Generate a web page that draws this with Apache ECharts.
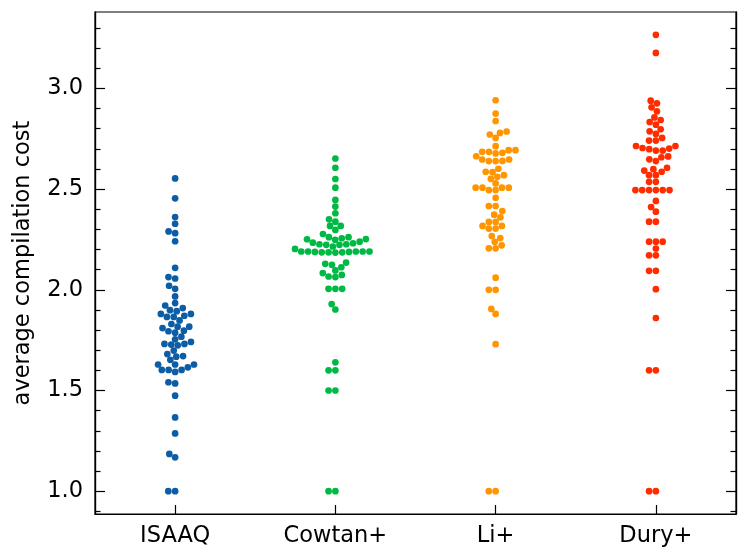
<!DOCTYPE html>
<html><head><meta charset="utf-8">
<script src="https://cdn.jsdelivr.net/npm/echarts@6/dist/echarts.min.js"></script>
<style>html,body{margin:0;padding:0;background:#fff}#c{width:748px;height:560px}</style>
</head><body><div id="c"></div>
<script>
const categories = ['ISAAQ', 'Cowtan+', 'Li+', 'Dury+'];
const isaaq = [2.553, 2.454, 2.361, 2.328, 2.290, 2.281, 2.241, 2.109, 2.063, 2.056, 2.020, 2.005, 1.967,
  1.934, 1.922, 1.909, 1.899, 1.894, 1.880, 1.871, 1.880, 1.865, 1.865, 1.848, 1.817, 1.830, 1.810, 1.817,
  1.794, 1.797, 1.787, 1.767, 1.754, 1.731, 1.728, 1.724, 1.731, 1.741, 1.698, 1.681, 1.668, 1.671, 1.652,
  1.629, 1.629, 1.602, 1.602, 1.592, 1.602, 1.615, 1.629, 1.541, 1.535, 1.474, 1.366, 1.287, 1.185, 1.168, 1.0, 1.0];
const cowtan = [2.652, 2.606, 2.550, 2.507, 2.446, 2.413, 2.380, 2.338, 2.350, 2.297, 2.317, 2.317, 2.277,
  2.261, 2.252, 2.248, 2.256, 2.261, 2.251,
  2.239, 2.231, 2.226, 2.223, 2.215, 2.223, 2.226, 2.234, 2.203,
  2.190, 2.190, 2.188, 2.186, 2.186, 2.185, 2.186, 2.188, 2.190, 2.190, 2.190,
  2.135, 2.124, 2.112, 2.129, 2.083, 2.063, 2.066, 2.074, 2.096, 2.005, 2.005, 2.005,
  1.929, 1.902, 1.640, 1.600, 1.600, 1.500, 1.500, 1.0, 1.0];
const li = [2.941, 2.875, 2.838, 2.771, 2.754, 2.779, 2.786, 2.713,
  2.693, 2.680, 2.677, 2.685, 2.685, 2.693, 2.663, 2.647, 2.639, 2.639, 2.640, 2.647,
  2.584, 2.586, 2.601, 2.561, 2.551, 2.569, 2.528, 2.507, 2.495, 2.495, 2.507, 2.507, 2.507,
  2.457, 2.416, 2.416, 2.391, 2.373, 2.360, 2.337, 2.337, 2.304, 2.304, 2.317, 2.317,
  2.257, 2.267, 2.238, 2.206, 2.206, 2.221, 2.060, 2.000, 2.000, 1.905, 1.880, 1.730, 1.0, 1.0];
const dury = [3.266, 3.176, 2.939, 2.926, 2.906, 2.886, 2.856, 2.833, 2.820, 2.843, 2.787, 2.774, 2.797,
  2.741, 2.741, 2.754, 2.714, 2.704, 2.698, 2.691, 2.691, 2.701, 2.714, 2.648, 2.639, 2.658, 2.662,
  2.592, 2.599, 2.569, 2.569, 2.586, 2.606, 2.536, 2.536, 2.495, 2.495, 2.495, 2.495, 2.495, 2.495,
  2.441, 2.411, 2.388, 2.338, 2.338, 2.239, 2.239, 2.239, 2.205, 2.171, 2.171, 2.094, 2.094, 2.003,
  1.860, 1.600, 1.600, 1.0, 1.0];
const yMajorTicks = [1.0, 1.5, 2.0, 2.5, 3.0];
const yMinorTicks = [0.9, 1.1, 1.2, 1.3, 1.4, 1.6, 1.7, 1.8, 1.9, 2.1, 2.2, 2.3, 2.4, 2.6, 2.7, 2.8, 2.9, 3.1, 3.2, 3.3];
const groups = [isaaq, cowtan, li, dury];
const colors = ['#0C5DA5', '#00B945', '#FF9500', '#FF2C00'];

const all = groups.flat();
const lo = Math.min(...all), hi = Math.max(...all);
const pad = 0.05 * (hi - lo);
const yMin = lo - pad, yMax = hi + pad;
const FONT = 'DejaVu Sans';
const LW = 1.2;
const FS = 22.5;

const chart = echarts.init(document.getElementById('c'), null, {renderer: 'canvas'});

function yAxisDef(pos, custom, len, labels) {
  return {
    type: 'value', position: pos, min: yMin, max: yMax,
    axisLine: {show: true, onZero: false, lineStyle: {color: '#000', width: LW}},
    splitLine: {show: false},
    axisTick: {show: true, inside: true, length: len, customValues: custom, lineStyle: {color: '#000', width: LW}},
    axisLabel: {show: labels, customValues: custom, margin: 12, color: '#000', fontSize: FS, fontFamily: FONT,
      formatter: v => Number(v).toFixed(1)},
    name: labels && pos === 'left' ? 'average compilation cost' : '',
    nameLocation: 'middle', nameGap: 60,
    nameTextStyle: {fontSize: FS, color: '#000', fontFamily: FONT}
  };
}

const baseOption = {
  animation: false,
  backgroundColor: '#fff',
  grid: {left: 95, right: 12, top: 12, bottom: 46, show: true, borderColor: '#000', borderWidth: LW, backgroundColor: 'transparent'},
  xAxis: [
    {type: 'category', data: categories, boundaryGap: true,
      axisLine: {show: true, onZero: false, lineStyle: {color: '#000', width: LW}},
      axisTick: {show: true, inside: true, alignWithLabel: true, length: 9, lineStyle: {color: '#000', width: LW}},
      axisLabel: {margin: 11, color: '#000', fontSize: FS, fontFamily: FONT},
      splitLine: {show: false}},
    {type: 'value', min: -0.5, max: categories.length - 0.5, show: false}
  ],
  yAxis: [
    yAxisDef('left', yMajorTicks, 10, true),
    yAxisDef('left', yMinorTicks, 5.5, false),
    yAxisDef('right', yMajorTicks, 10, false),
    yAxisDef('right', yMinorTicks, 5.5, false)
  ],
  series: []
};
chart.setOption(baseOption);

// beeswarm layout (seaborn-like) in pixel space
const D = 6.5;
const pxPerY = Math.abs(chart.convertToPixel({yAxisIndex: 0}, 2) - chart.convertToPixel({yAxisIndex: 0}, 1));
const pxPerX = Math.abs(chart.convertToPixel({xAxisIndex: 1}, 1) - chart.convertToPixel({xAxisIndex: 1}, 0));

function swarm(vals) {
  const idx = vals.map((v, i) => i).sort((a, b) => vals[a] - vals[b]);
  const placed = [];
  const off = new Array(vals.length);
  for (const i of idx) {
    const y = vals[i] * pxPerY;
    const nb = placed.filter(p => Math.abs(p.y - y) < D);
    const cands = [0];
    let leftFirst = true;
    for (const p of nb) {
      const dy = y - p.y;
      const dx = Math.sqrt(Math.max(D * D - dy * dy, 0)) * 1.05;
      if (leftFirst) cands.push(p.x - dx, p.x + dx); else cands.push(p.x + dx, p.x - dx);
      leftFirst = !leftFirst;
    }
    const order = cands.map((c, k) => k).sort((a, b) => (Math.abs(cands[a]) - Math.abs(cands[b])) || (a - b));
    let chosen = 0;
    for (const k of order) {
      const c = cands[k];
      if (nb.every(p => (p.x - c) ** 2 + (p.y - y) ** 2 >= D * D * 0.999)) { chosen = c; break; }
    }
    placed.push({x: chosen, y});
    off[i] = chosen;
  }
  return off;
}

const series = groups.map((vals, g) => {
  const off = swarm(vals);
  return {
    type: 'scatter', name: categories[g], xAxisIndex: 1, yAxisIndex: 0,
    symbol: 'circle', symbolSize: 6.7,
    itemStyle: {color: colors[g], opacity: 1},
    data: vals.map((v, i) => [g + off[i] / pxPerX, v])
  };
});
chart.setOption({series});
</script></body></html>
